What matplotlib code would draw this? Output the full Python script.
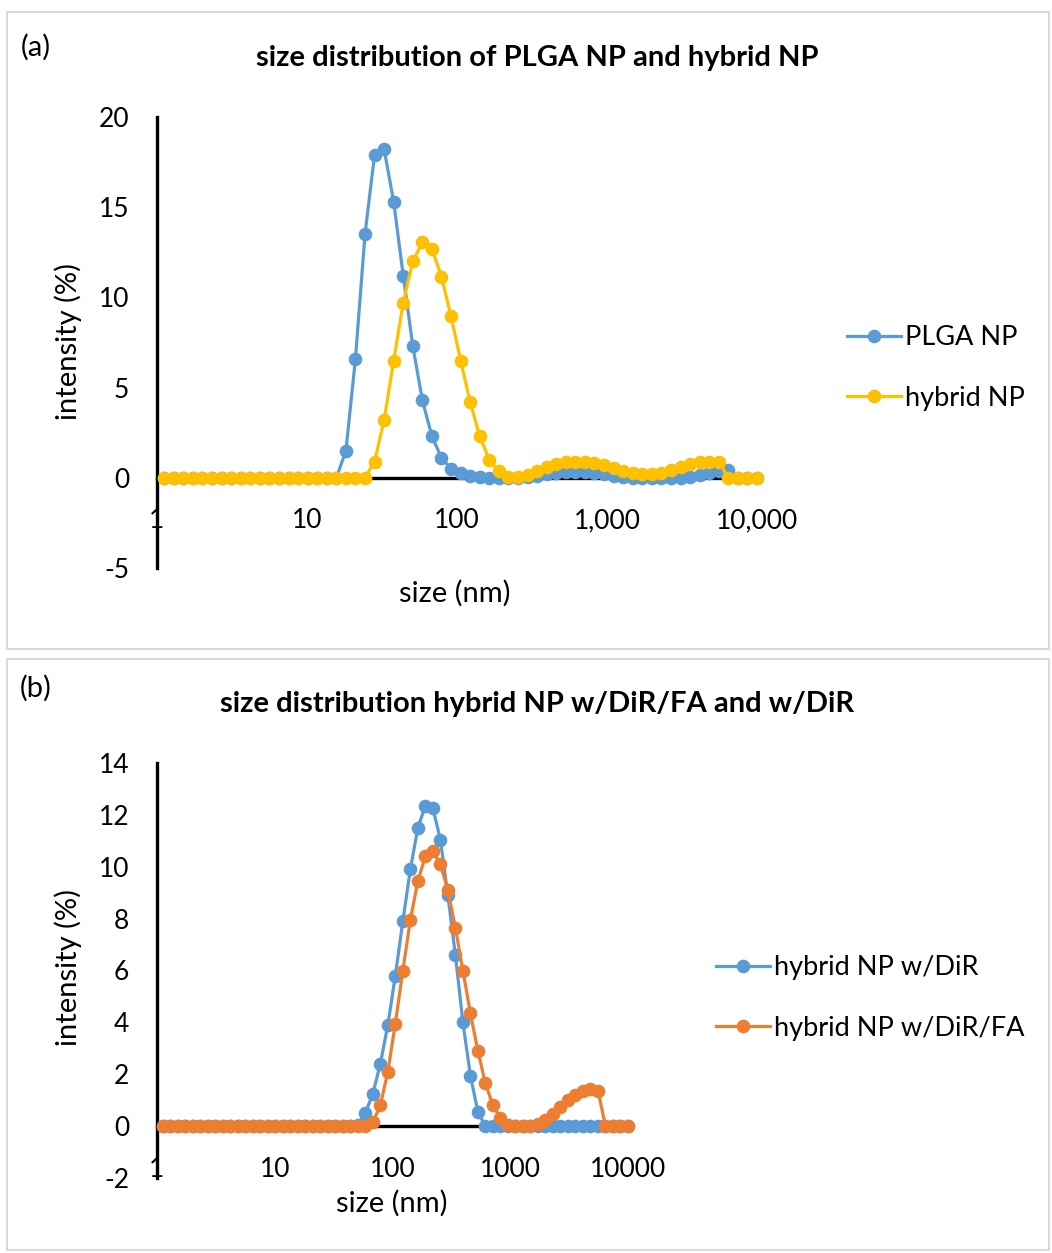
import matplotlib
matplotlib.use("Agg")
import matplotlib.pyplot as plt
from matplotlib.patches import Rectangle

plt.rcParams["font.family"] = ["Lato", "DejaVu Sans"]

# Zetasizer size bins (nm)
sizes = [1.117, 1.294, 1.499, 1.736, 2.01, 2.328, 2.696, 3.122, 3.615, 4.187,
         4.849, 5.615, 6.503, 7.531, 8.721, 10.1, 11.7, 13.54, 15.69, 18.17,
         21.04, 24.36, 28.21, 32.67, 37.84, 43.82, 50.75, 58.77, 68.06, 78.82,
         91.28, 105.7, 122.4, 141.8, 164.2, 190.1, 220.2, 255.0, 295.3, 342.0,
         396.1, 458.7, 531.2, 615.1, 712.4, 825.0, 955.4, 1106, 1281, 1484,
         1718, 1990, 2305, 2669, 3091, 3580, 4145, 4801, 5560, 6439,
         7456, 8635, 10000]

# (a) intensity %
plga_np = [0, 0, 0, 0, 0, 0, 0, 0, 0, 0,
           0, 0, 0, 0, 0, 0, 0, 0, 0, 1.5,
           6.6, 13.5, 17.9, 18.2, 15.3, 11.2, 7.3, 4.3, 2.3, 1.1,
           0.5, 0.25, 0.1, 0.05, 0, 0, 0, 0, 0.05, 0.1,
           0.2, 0.25, 0.3, 0.3, 0.3, 0.25, 0.2, 0.1, 0.05, 0,
           0, 0, 0, 0, 0, 0.05, 0.15, 0.25, 0.35, 0.45,
           0, 0, 0]
hybrid_np = [0, 0, 0, 0, 0, 0, 0, 0, 0, 0,
             0, 0, 0, 0, 0, 0, 0, 0, 0, 0,
             0, 0, 0.9, 3.2, 6.5, 9.7, 12.0, 13.05, 12.7, 11.15,
             8.95, 6.5, 4.2, 2.3, 1.0, 0.35, 0.05, 0.07, 0.17, 0.4,
             0.6, 0.75, 0.85, 0.9, 0.88, 0.8, 0.7, 0.55, 0.4, 0.28,
             0.22, 0.22, 0.28, 0.42, 0.6, 0.75, 0.85, 0.9, 0.9, 0,
             0, 0, 0]

# (b) intensity %
hybrid_dir = [0, 0, 0, 0, 0, 0, 0, 0, 0, 0,
              0, 0, 0, 0, 0, 0, 0, 0, 0, 0,
              0, 0, 0, 0, 0, 0, 0.05, 0.5, 1.25, 2.4,
              3.9, 5.8, 7.9, 9.9, 11.5, 12.35, 12.25, 11.05, 8.9, 6.6,
              4.0, 1.95, 0.55, 0, 0, 0, 0, 0, 0, 0,
              0, 0, 0, 0, 0, 0, 0, 0, 0, 0,
              0, 0, 0]
hybrid_dir_fa = [0, 0, 0, 0, 0, 0, 0, 0, 0, 0,
                 0, 0, 0, 0, 0, 0, 0, 0, 0, 0,
                 0, 0, 0, 0, 0, 0, 0, 0, 0.15, 0.8,
                 2.1, 3.95, 6.0, 7.95, 9.45, 10.4, 10.6, 10.1, 9.1, 7.65,
                 6.0, 4.35, 2.9, 1.65, 0.8, 0.3, 0.05, 0, 0, 0.02,
                 0.1, 0.23, 0.46, 0.74, 1.0, 1.2, 1.37, 1.45, 1.37, 0,
                 0, 0, 0]

xticks_a = [1, 10, 100, 1000, 10000]
xlabels_a = ["1", "10", "100", "1,000", "10,000"]
yticks_a = [-5, 0, 5, 10, 15, 20]
xlabels_b = ["1", "10", "100", "1000", "10000"]
yticks_b = [-2, 0, 2, 4, 6, 8, 10, 12, 14]

BLUE, YELLOW, ORANGE = "#5B9BD5", "#FFC000", "#ED7D31"
W, H = 1052, 1253
FS_TICK = 19
FS_LEG = 19.5
FS_LAB = 21
FS_TITLE = 21

fig = plt.figure(figsize=(W / 100, H / 100), dpi=100)


def px(x, y):
    return x / W, 1 - y / H


# panel borders
for y0, y1 in [(12, 649), (659, 1250)]:
    fig.patches.append(Rectangle((7 / W, 1 - y1 / H), (1049 - 7) / W, (y1 - y0) / H,
                                 transform=fig.transFigure, fill=False,
                                 edgecolor="#d9d9d9", lw=1.5))


def setup(ax, yticks, xlabels, ylim):
    ax.set_xscale("log")
    ax.set_xlim(1, 10000)
    ax.set_ylim(*ylim)
    ax.set_xticks(xticks_a)
    ax.set_xticklabels(xlabels)
    ax.minorticks_off()
    ax.set_yticks(yticks)
    ax.set_yticklabels([str(v) for v in yticks])
    for s in ["top", "right"]:
        ax.spines[s].set_visible(False)
    ax.spines["bottom"].set_position(("data", 0))
    for s in ["left", "bottom"]:
        ax.spines[s].set_linewidth(2.4)
        ax.spines[s].set_color("black")
        ax.spines[s].set_zorder(1)
    ax.tick_params(axis="x", length=0, pad=22, labelsize=FS_TICK)
    ax.tick_params(axis="y", length=0, pad=20, labelsize=FS_TICK)
    ax.patch.set_visible(False)


def series(ax, y, color, label):
    ax.plot(sizes, y, "-o", color=color, lw=2.3, ms=8.8, mec=color, label=label,
            zorder=3, clip_on=False)


def legend(ax, x, y):
    ax.legend(loc="center left", bbox_to_anchor=px(x, y),
              bbox_transform=fig.transFigure, frameon=False, fontsize=FS_LEG,
              borderpad=0, borderaxespad=0, handlelength=2.0,
              handletextpad=0.15, labelspacing=1.3)


# (a)
ax1 = fig.add_axes([157 / W, 1 - 568 / H, 600 / W, 451 / H])
setup(ax1, yticks_a, xlabels_a, (-5, 20))
series(ax1, plga_np, BLUE, "PLGA NP")
series(ax1, hybrid_np, YELLOW, "hybrid NP")
fig.text(*px(36, 47), "(a)", fontsize=FS_LAB, ha="center", va="center")
fig.text(*px(537, 58), "size distribution of PLGA NP and hybrid NP",
         fontsize=FS_TITLE, fontweight="bold", ha="center", va="center")
fig.text(*px(68, 341), "intensity (%)", fontsize=FS_LAB, rotation=90,
         ha="center", va="center")
fig.text(*px(455, 593), "size (nm)", fontsize=FS_LAB, ha="center", va="center")
legend(ax1, 847, 368)

# (b)
ax2 = fig.add_axes([157 / W, 1 - 1178 / H, 471 / W, 415 / H])
setup(ax2, yticks_b, xlabels_b, (-2, 14))
series(ax2, hybrid_dir, BLUE, "hybrid NP w/DiR")
series(ax2, hybrid_dir_fa, ORANGE, "hybrid NP w/DiR/FA")
fig.text(*px(36, 688), "(b)", fontsize=FS_LAB, ha="center", va="center")
fig.text(*px(537, 704), "size distribution hybrid NP w/DiR/FA and w/DiR",
         fontsize=FS_TITLE, fontweight="bold", ha="center", va="center")
fig.text(*px(68, 968), "intensity (%)", fontsize=FS_LAB, rotation=90,
         ha="center", va="center")
fig.text(*px(392, 1203), "size (nm)", fontsize=FS_LAB, ha="center", va="center")
legend(ax2, 716, 998)

fig.savefig("out.png", dpi=100)
